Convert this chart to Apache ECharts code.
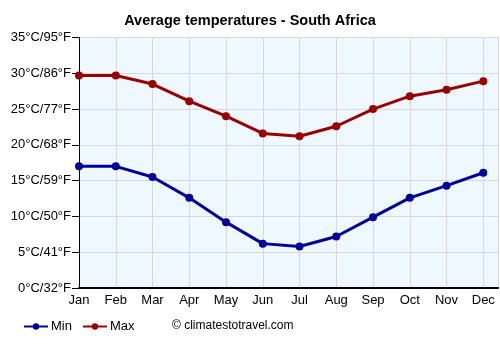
<!DOCTYPE html>
<html>
<head>
<meta charset="utf-8">
<script src="https://cdn.jsdelivr.net/npm/echarts@6/dist/echarts.min.js"></script>
<style>
  html, body { margin: 0; padding: 0; background: #fff; }
  #chart { width: 500px; height: 350px; }
</style>
</head>
<body>
<div id="chart"></div>
<script>
// Average temperatures, South Africa (°C)
const months = ['Jan', 'Feb', 'Mar', 'Apr', 'May', 'Jun', 'Jul', 'Aug', 'Sep', 'Oct', 'Nov', 'Dec'];
const minTemps = [17.0, 17.0, 15.5, 12.6, 9.2, 6.2, 5.8, 7.2, 9.9, 12.6, 14.3, 16.1];
const maxTemps = [29.7, 29.7, 28.5, 26.1, 24.0, 21.6, 21.2, 22.6, 25.0, 26.8, 27.7, 28.9];

const chart = echarts.init(document.getElementById('chart'));

const font = 'Liberation Sans, Arial, sans-serif';

function pairs(arr) {
    return arr.map((v, i) => [i, v]);
}

chart.setOption({
    animation: false,
    title: {
        text: 'Average temperatures - South Africa',
        left: 'center',
        top: 8,
        textStyle: { fontFamily: font, fontSize: 14.5, fontWeight: 'bold', color: '#000' }
    },
    legend: {
        left: 18,
        bottom: 12,
        itemWidth: 24,
        itemHeight: 8,
        itemGap: 10,
        textStyle: { fontFamily: font, fontSize: 13, color: '#000', padding: [0, 0, 0, -2] },
        data: ['Min', 'Max']
    },
    graphic: [{
        type: 'text',
        left: 172,
        top: 320,
        style: { text: '© climatestotravel.com', font: '12px ' + font, fill: '#000' }
    }],
    grid: {
        left: 79, right: 2, top: 37.5, bottom: 62,
        show: true, backgroundColor: '#f0f8ff', borderWidth: 0
    },
    xAxis: {
        type: 'value',
        min: 0,
        max: 11.4,
        interval: 1,
        axisLine: { lineStyle: { color: '#000', width: 2 } },
        axisTick: { show: false },
        splitLine: { show: true, lineStyle: { color: '#d8d8d8' } },
        axisLabel: {
            fontFamily: font, fontSize: 13, color: '#000', margin: 6,
            showMaxLabel: false,
            formatter: v => months[v] || ''
        }
    },
    yAxis: {
        type: 'value',
        min: 0,
        max: 35,
        interval: 5,
        axisLine: { show: true, lineStyle: { color: '#000' } },
        axisTick: { show: true, length: 7, lineStyle: { color: '#000' } },
        splitLine: { lineStyle: { color: '#d8d8d8' } },
        axisLabel: {
            fontFamily: font, fontSize: 13, color: '#000', margin: 8,
            formatter: v => v + '°C/' + Math.round(v * 9 / 5 + 32) + '°F'
        }
    },
    series: [
        {
            name: 'Min',
            type: 'line',
            data: pairs(minTemps),
            symbol: 'circle',
            symbolSize: 8,
            lineStyle: { color: '#000099', width: 3 },
            itemStyle: { color: '#000099' }
        },
        {
            name: 'Max',
            type: 'line',
            data: pairs(maxTemps),
            symbol: 'circle',
            symbolSize: 8,
            lineStyle: { color: '#990000', width: 3 },
            itemStyle: { color: '#990000' }
        }
    ]
});
</script>
</body>
</html>
